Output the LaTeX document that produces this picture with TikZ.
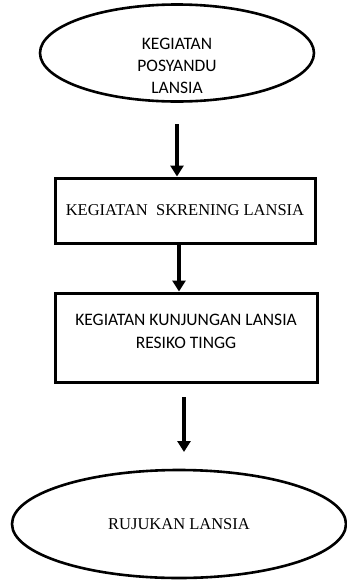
\documentclass[tikz,border=0pt]{standalone}
\usepackage{fontspec}
\setmainfont{Liberation Serif}
\newfontfamily\carlito{Carlito}
\usetikzlibrary{shapes.geometric,arrows.meta}
\tikzset{
  oval/.style={draw,ellipse,line width=2.6pt,inner sep=0pt},
  kotak/.style={draw,rectangle,line width=3pt,inner sep=0pt},
  panah/.style={line width=3.8pt,-{Triangle[length=11pt,width=13pt]}},
}
\begin{document}
\begin{tikzpicture}[x=1pt,y=1pt,yscale=-1,xscale=1]
\useasboundingbox (0,0) rectangle (346,582);

% Ellipse atas
\node [oval,minimum width=274,minimum height=97,
  label={[align=center,yshift=-13pt,font=\carlito\fontsize{17.5}{22}\selectfont]center:KEGIATAN\\POSYANDU\\LANSIA}] (posyandu) at (177,53) {};
% Kotak skrening
\node [kotak,minimum width=260,minimum height=65,font=\fontsize{16.5}{19}\selectfont] (skrening) at (185,210.5) {KEGIATAN\ \ SKRENING LANSIA};
% Kotak kunjungan
\node [kotak,minimum width=262,minimum height=89,align=center,font=\carlito\fontsize{17.5}{23}\selectfont] (kunjungan) at (186,337.5) {KEGIATAN KUNJUNGAN LANSIA\\RESIKO TINGG\\[-11pt]};
% Ellipse bawah
\node [oval,minimum width=334,minimum height=108,font=\fontsize{16.5}{19}\selectfont] (rujukan) at (179,524) {RUJUKAN LANSIA};

% Titik ujung bebas
\coordinate (a1) at (177,124);
\coordinate (a3) at (184,397);
\coordinate (b3) at (184,452);

% Panah
\draw [panah] (a1) -- (a1 |- skrening.north);
\draw [panah] (skrening.south -| 179,0) -- (kunjungan.north -| 179,0);
\draw [panah] (a3) -- (b3);

\end{tikzpicture}
\end{document}
